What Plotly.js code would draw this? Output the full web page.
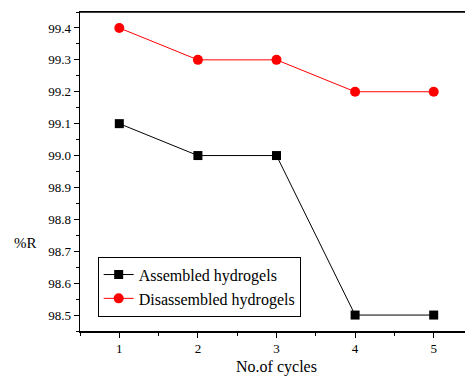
<!DOCTYPE html>
<html>
<head>
<meta charset="utf-8">
<script src="https://cdn.plot.ly/plotly-3.0.1.min.js"></script>
<style>
html,body{margin:0;padding:0;overflow:hidden;background:#fff;}
#chart{width:473px;height:376px;}
</style>
</head>
<body>
<div id="chart"></div>
<script>
const cycles = [1, 2, 3, 4, 5];
const assembled = [99.1, 99.0, 99.0, 98.5, 98.5];
const disassembled = [99.4, 99.3, 99.3, 99.2, 99.2];
const seriesNames = ['Assembled hydrogels', 'Disassembled hydrogels'];
const xTitle = 'No.of cycles';
const yTitle = '%R';

const font = {family: 'Liberation Serif', color: '#000'};

const traces = [
  {x: cycles, y: assembled, name: seriesNames[0], type: 'scatter', mode: 'lines+markers',
   line: {color: '#000', width: 1}, marker: {symbol: 'square', size: 9, color: '#000'}},
  {x: cycles, y: disassembled, name: seriesNames[1], type: 'scatter', mode: 'lines+markers',
   line: {color: '#ff0000', width: 1}, marker: {symbol: 'circle', size: 10, color: '#ff0000'}}
];

const layout = {
  width: 473, height: 376,
  margin: {l: 80, r: 0, t: 12, b: 45},
  paper_bgcolor: '#fff', plot_bgcolor: '#fff',
  font: Object.assign({size: 13}, font),
  showlegend: true,
  legend: {x: 0.045, y: 0.045, xanchor: 'left', yanchor: 'bottom',
    bordercolor: '#000', borderwidth: 1, bgcolor: '#fff',
    font: Object.assign({size: 16}, font), tracegroupgap: 0},
  xaxis: {range: [0.5, 5.5], tickvals: cycles, ticks: 'outside', ticklen: 5, tickwidth: 1,
    tickcolor: '#000', showline: true, mirror: true, linecolor: '#000', linewidth: 1.5, showgrid: false,
    zeroline: false, tickfont: Object.assign({size: 13}, font),
    minor: {dtick: 0.5, tick0: 0.5, ticks: 'outside', ticklen: 3, tickcolor: '#000', showgrid: false},
    title: {text: xTitle, font: Object.assign({size: 16}, font), standoff: 10}},
  yaxis: {range: [98.45, 99.45], dtick: 0.1, tick0: 98.5, tickformat: '.1f', ticks: 'outside',
    ticklen: 5, tickwidth: 1, tickcolor: '#000', showline: true, mirror: true, linecolor: '#000', linewidth: 1.5,
    showgrid: false, zeroline: false, tickfont: Object.assign({size: 13}, font),
    minor: {dtick: 0.05, tick0: 98.45, ticks: 'outside', ticklen: 3, tickcolor: '#000', showgrid: false}},
  shapes: [{type: 'line', xref: 'paper', yref: 'paper', x0: 0, x1: 1, y0: 1, y1: 1,
    line: {color: '#000', width: 1.5}, layer: 'above'}],
  annotations: [{text: yTitle, xref: 'paper', yref: 'paper', x: -0.172, y: 0.275,
    xanchor: 'left', yanchor: 'middle', showarrow: false, font: Object.assign({size: 15}, font)}]
};

Plotly.newPlot('chart', traces, layout, {displayModeBar: false, staticPlot: true});
</script>
</body>
</html>
